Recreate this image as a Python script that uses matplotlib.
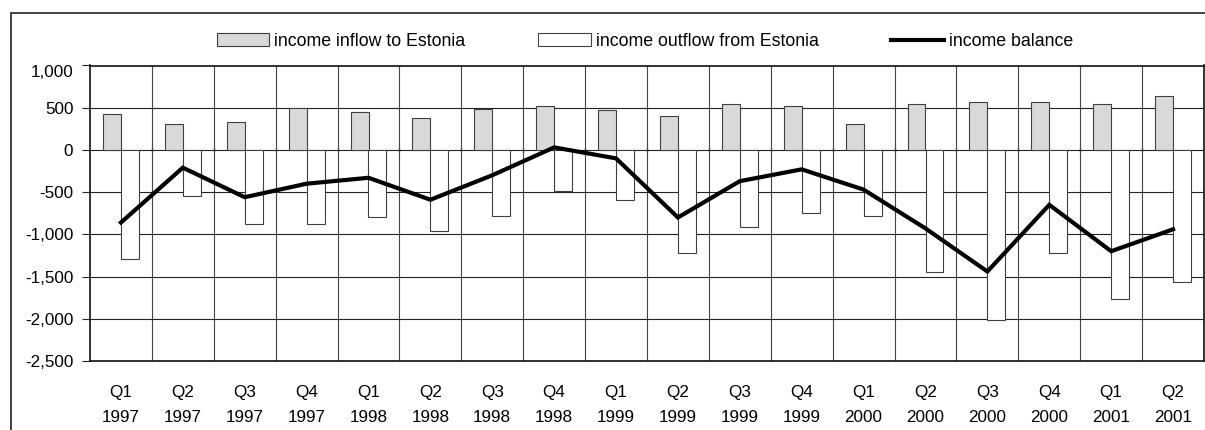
"""
Estonia income account by quarter, 1997-2001
Inflow / outflow bars with the income balance line on top
"""

import numpy as np
import matplotlib
matplotlib.use('Agg')
import matplotlib.pyplot as plt
from matplotlib.patches import Rectangle
from matplotlib.ticker import FuncFormatter, FixedLocator

plt.rcParams['font.family'] = ['Liberation Sans', 'DejaVu Sans']
plt.rcParams['font.size'] = 12.3

quarters = ['Q1', 'Q2', 'Q3', 'Q4', 'Q1', 'Q2', 'Q3', 'Q4', 'Q1',
            'Q2', 'Q3', 'Q4', 'Q1', 'Q2', 'Q3', 'Q4', 'Q1', 'Q2']
years = ['1997', '1997', '1997', '1997', '1998', '1998', '1998', '1998', '1999',
         '1999', '1999', '1999', '2000', '2000', '2000', '2000', '2001', '2001']

inflow = [430, 310, 330, 500, 450, 380, 480, 520, 475,
          400, 545, 520, 310, 545, 570, 570, 545, 640]
outflow = [-1290, -540, -880, -880, -800, -960, -780, -490, -590,
           -1220, -910, -750, -780, -1450, -2020, -1220, -1760, -1570]
balance = [-860, -210, -560, -400, -330, -590, -300, 30, -100,
           -800, -370, -230, -470, -930, -1440, -650, -1200, -940]

y_ticks = [1000, 500, 0, -500, -1000, -1500, -2000, -2500]

fig = plt.figure(figsize=(12.05, 4.30), dpi=100)
ax = fig.add_axes([90 / 1205, 1 - 361 / 430, 1114 / 1205, 295.5 / 430])

# outer chart border, open to the right and bottom
fig.patches.append(Rectangle((11 / 1205, -0.2), 1.2, 0.2 + (1 - 13 / 430),
                             transform=fig.transFigure, fill=False,
                             edgecolor='#222222', linewidth=1.2))

x = np.arange(len(quarters))
bar_w = 0.29
ax.bar(x - bar_w / 2, inflow, width=bar_w, color='#d9d9d9', edgecolor='#404040',
       linewidth=0.8, zorder=3, label='income inflow to Estonia')
ax.bar(x + bar_w / 2, outflow, width=bar_w, color='white', edgecolor='#404040',
       linewidth=0.8, zorder=3, label='income outflow from Estonia')
ax.plot(x, balance, color='black', linewidth=3, zorder=4,
        solid_joinstyle='miter', label='income balance')

ax.set_xlim(-0.5, len(quarters) - 0.5)
ax.set_ylim(-2500, 1000)

ax.set_yticks(y_ticks)
ax.yaxis.set_major_formatter(FuncFormatter(lambda v, p: f'{v:,.0f}'))
ax.tick_params(axis='y', length=6, width=0.8, color='#222222', pad=6)

ax.set_xticks(x)
ax.set_xticklabels([f'{q}\n{y}' for q, y in zip(quarters, years)],
                   linespacing=1.85)
ax.xaxis.set_minor_locator(FixedLocator(np.arange(0.5, len(quarters) - 0.5, 1)))
ax.tick_params(axis='x', which='major', length=0, pad=17)
ax.tick_params(axis='x', which='minor', length=0)

ax.grid(axis='y', which='major', color='#222222', linewidth=0.8, zorder=1)
ax.grid(axis='x', which='minor', color='#444444', linewidth=0.8, zorder=1)
ax.grid(axis='x', which='major', visible=False)
ax.set_axisbelow(True)

for side in ax.spines.values():
    side.set_color('#111111')
    side.set_linewidth(1.2)

# category axis crossing at zero, with cross ticks at the boundaries
zero_frac = (0 - ax.get_ylim()[0]) / (ax.get_ylim()[1] - ax.get_ylim()[0])
sec = ax.secondary_xaxis(zero_frac)
sec.set_xticks(np.arange(0.5, len(quarters) - 0.5, 1))
sec.set_xticklabels([])
sec.tick_params(length=3, direction='inout', width=1.0, color='#222222',
                labelbottom=False, labeltop=False)
sec.spines['bottom'].set_visible(False)
sec.spines['top'].set_visible(False)

# keep the top label inside the plot frame
top_tick = ax.yaxis.get_major_ticks()[0]
top_tick.label1.set_va('top')

handles, labels = ax.get_legend_handles_labels()
order = [labels.index('income inflow to Estonia'),
         labels.index('income outflow from Estonia'),
         labels.index('income balance')]
fig.legend([handles[i] for i in order], [labels[i] for i in order],
           loc='center', bbox_to_anchor=(645 / 1205, 1 - 41.5 / 430), ncol=3,
           frameon=False, fontsize=12.8, handlelength=2.95, handleheight=0.72,
           handletextpad=0.28, columnspacing=4.1)

plt.savefig('out.png', dpi=100)
plt.close()
